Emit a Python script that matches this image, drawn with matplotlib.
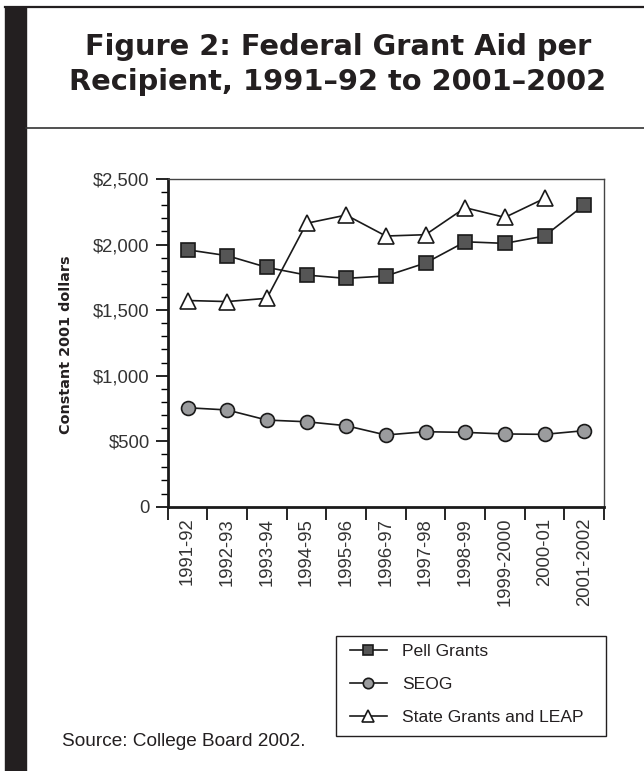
import numpy as np
import matplotlib
matplotlib.use("Agg")
from matplotlib import pyplot as plt
from matplotlib.lines import Line2D
from matplotlib.patches import Rectangle

years = ["1991-92", "1992-93", "1993-94", "1994-95", "1995-96", "1996-97",
         "1997-98", "1998-99", "1999-2000", "2000-01", "2001-2002"]
pell = [1960, 1915, 1826, 1767, 1742, 1760, 1859, 2021, 2009, 2065, 2301]
seog = [755, 738, 661, 648, 618, 547, 572, 567, 555, 552, 580]
state = [1573, 1565, 1590, 2162, 2225, 2065, 2075, 2281, 2207, 2352]

y_ticks = [0, 500, 1000, 1500, 2000, 2500]
y_labels = ["0", "$500", "$1,000", "$1,500", "$2,000", "$2,500"]

W, H = 644, 771
fig = plt.figure(figsize=(W / 100, H / 100), dpi=100)

# page frame: black bar on the left, rules above and below the heading
fig.patches.append(Rectangle((5 / W, 0), 21 / W, 1 - 7 / H, transform=fig.transFigure,
                             color="#231f20", zorder=0))
fig.add_artist(Line2D([5 / W, 1], [1 - 7 / H, 1 - 7 / H], transform=fig.transFigure,
                      color="#231f20", lw=1.6))
fig.add_artist(Line2D([26 / W, 1], [1 - 128 / H, 1 - 128 / H], transform=fig.transFigure,
                      color="#333333", lw=1.2))

fig.text(338 / W, 1 - 55 / H, "Figure 2: Federal Grant Aid per", ha="center",
         va="baseline", fontsize=20.8, fontweight="bold", color="#231f20")
fig.text(338 / W, 1 - 90 / H, "Recipient, 1991\u201392 to 2001\u20132002", ha="center",
         va="baseline", fontsize=20.8, fontweight="bold", color="#231f20")

ax = fig.add_axes([167.7 / W, 1 - 506.7 / H, 436.3 / W, 327.7 / H])
x = np.arange(len(years))

ax.plot(x, pell, "-s", color="#1a1a1a", lw=1.2, ms=10, mfc="#555555", mec="#1a1a1a",
        mew=1.2, label="Pell Grants", zorder=3)
ax.plot(x, seog, "-o", color="#1a1a1a", lw=1.2, ms=10, mfc="#9b9c9e", mec="#1a1a1a",
        mew=1.2, label="SEOG", zorder=3)
ax.plot(x[:len(state)], state, "-^", color="#1a1a1a", lw=1.2, ms=11, mfc="white",
        mec="#1a1a1a", mew=1.2, label="State Grants and LEAP", zorder=3)

ax.set_xlim(-0.5, len(years) - 0.5)
ax.set_ylim(0, 2500)

# ticks sit on the category boundaries, labels at the centres
ax.set_xticks(np.arange(-0.5, len(years), 1))
ax.set_xticklabels([])
ax.set_xticks(x, minor=True)
ax.set_xticklabels(years, minor=True, rotation=90, fontsize=13.3, color="#333333",
                   family="Liberation Sans")
ax.tick_params(axis="x", which="major", direction="out", length=9, width=1.2)
ax.tick_params(axis="x", which="minor", length=0, pad=8)

ax.set_yticks(y_ticks)
ax.set_yticklabels(y_labels, fontsize=13.3, color="#333333", family="Liberation Sans")
ax.set_yticks(np.arange(0, 2501, 100), minor=True)
ax.tick_params(axis="y", which="major", direction="out", length=9, width=1.2, pad=4)
ax.tick_params(axis="y", which="minor", direction="out", length=5, width=1.0)

for side in ["left", "bottom"]:
    ax.spines[side].set_linewidth(2.0)
    ax.spines[side].set_color("#1a1a1a")
for side in ["top", "right"]:
    ax.spines[side].set_linewidth(1.0)
    ax.spines[side].set_color("#444444")

fig.text(66 / W, 1 - 345 / H, "Constant 2001 dollars", rotation=90, ha="center",
         va="center", fontsize=10.4, fontweight="bold", color="#231f20")

# legend entries without frame; the box is drawn separately so it can be wider
leg = fig.legend(loc="upper left", bbox_to_anchor=(350 / W, 1 - 644 / H),
                 frameon=False, prop={"family": "Liberation Sans", "size": 12.6},
                 handlelength=2.1, handletextpad=0.9, labelspacing=1.0,
                 borderpad=0, borderaxespad=0, markerscale=0.75)
for t in leg.get_texts():
    t.set_color("#231f20")
fig.patches.append(Rectangle((335.7 / W, 1 - 736 / H), 270.3 / W, 100.3 / H,
                             transform=fig.transFigure, fill=False,
                             edgecolor="#231f20", lw=1.0))

fig.text(62 / W, 1 - 742 / H, "Source: College Board 2002.", ha="left", va="center",
         fontsize=13.7, family="Liberation Sans", color="#231f20")

fig.savefig("out.png", dpi=100)
